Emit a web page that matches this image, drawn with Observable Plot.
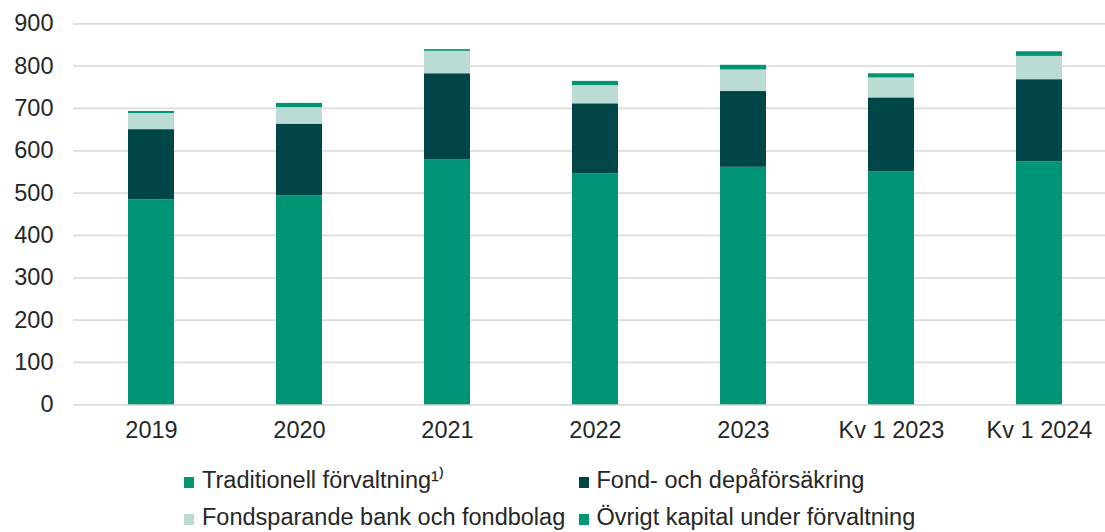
<!DOCTYPE html>
<html>
<head>
<meta charset="utf-8">
<script src="https://cdn.jsdelivr.net/npm/d3@7"></script>
<script src="https://cdn.jsdelivr.net/npm/@observablehq/plot@0.6"></script>
<style>
  html, body { margin: 0; padding: 0; background: #fff; }
  #wrap { position: relative; width: 1105px; height: 532px; font-family: "Liberation Sans", Arial, sans-serif; }
  .lg { position: absolute; font-size: 23.5px; line-height: 23.5px; color: #262626; white-space: nowrap; }
  .sw { display: inline-block; width: 10px; height: 11px; margin-right: 8px; vertical-align: baseline; }
</style>
</head>
<body>
<div id="wrap"></div>
<script>
const categories = ["2019", "2020", "2021", "2022", "2023", "Kv 1 2023", "Kv 1 2024"];
const seriesNames = ["Traditionell förvaltning¹⁾", "Fond- och depåförsäkring", "Fondsparande bank och fondbolag", "Övrigt kapital under förvaltning"];
const traditionell = [484, 494, 579, 546, 561, 550, 574];
const fond = [166, 169, 203, 165, 179, 175, 194];
const fondsparande = [38, 39, 53, 43, 51, 47, 55];
const ovrigt = [5, 10, 4, 10, 11, 10, 11];
const yTicks = [0, 100, 200, 300, 400, 500, 600, 700, 800, 900];
const colors = ["#009675", "#004648", "#badcd4", "#009675"];

const seriesValues = [traditionell, fond, fondsparande, ovrigt];
const data = [];
seriesValues.forEach((vals, s) => {
  categories.forEach((c, i) => data.push({cat: c, series: seriesNames[s], value: vals[i]}));
});

const chart = Plot.plot({
  width: 1105,
  height: 455,
  marginLeft: 73,
  marginRight: 0,
  marginTop: 23.3,
  marginBottom: 50.7,
  style: {fontFamily: "'Liberation Sans', Arial, sans-serif", fontSize: "23.5px", color: "#262626", background: "#fff"},
  x: {domain: categories, range: [74.8, 1116.1], paddingInner: 0.687, paddingOuter: 0.3435, label: null},
  y: {domain: [0, 900], ticks: yTicks, label: null},
  color: {domain: seriesNames, range: colors},
  marks: [
    Plot.ruleY(yTicks, {stroke: "#dcdcdc", strokeWidth: 1.8}),
    Plot.barY(data, Plot.stackY({x: "cat", y: "value", fill: "series", order: null})),
    Plot.axisY({ticks: yTicks, tickSize: 0, tickPadding: 20, fontSize: 23.5, fill: "#262626"}),
    Plot.axisX({tickSize: 0, tickPadding: 17, fontSize: 23.5, fill: "#262626"})
  ]
});
const wrap = document.getElementById("wrap");
chart.style.display = "block";
wrap.appendChild(chart);

const legendPos = [[184, 469], [578.5, 469], [184, 506], [578.5, 506]];
seriesNames.forEach((name, i) => {
  const d = document.createElement("div");
  d.className = "lg";
  d.style.left = legendPos[i][0] + "px";
  d.style.top = legendPos[i][1] + "px";
  const sw = document.createElement("span");
  sw.className = "sw";
  sw.style.background = colors[i];
  d.appendChild(sw);
  d.appendChild(document.createTextNode(name));
  wrap.appendChild(d);
});
</script>
</body>
</html>
